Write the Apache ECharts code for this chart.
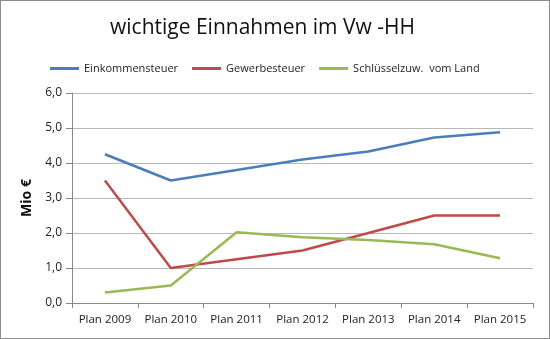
<!DOCTYPE html>
<html><head><meta charset="utf-8">
<script src="https://cdn.jsdelivr.net/npm/echarts@6/dist/echarts.min.js"></script>
<style>html,body{margin:0;padding:0;background:#fff}#c{width:550px;height:339px;box-sizing:border-box;border:1px solid #8c8c8c}</style>
</head><body><div id="c"></div>
<script>
const categories = ['Plan 2009','Plan 2010','Plan 2011','Plan 2012','Plan 2013','Plan 2014','Plan 2015'];
const einkommensteuer = [4.25, 3.5, 3.8, 4.1, 4.33, 4.73, 4.88];
const gewerbesteuer = [3.5, 1.0, 1.25, 1.5, 2.0, 2.5, 2.5];
const schluesselzuw = [0.3, 0.5, 2.02, 1.88, 1.8, 1.68, 1.28];
const yTicks = [0, 1, 2, 3, 4, 5, 6];

const font = '"Open Sans", "DejaVu Sans", sans-serif';
const chart = echarts.init(document.getElementById('c'));
const mk = (name, data, color) => ({
  name, type: 'line', data, symbol: 'none', smooth: false,
  lineStyle: {color, width: 2.5}, itemStyle: {color}
});
chart.setOption({
  animation: false,
  title: {text: 'wichtige Einnahmen im Vw -HH', left: 104, top: 12,
    textStyle: {fontFamily: font, fontSize: 21, fontWeight: 'normal', color: '#111'}},
  legend: {top: 57, left: 44, itemWidth: 29, itemHeight: 3, itemGap: 14,
    icon: 'rect',
    textStyle: {fontFamily: font, fontSize: 11, color: '#222'},
    data: ['Einkommensteuer','Gewerbesteuer','Schlüsselzuw.  vom Land']},
  grid: {left: 71, right: 16, top: 92, bottom: 35, containLabel: false},
  xAxis: {type: 'category', data: categories, boundaryGap: true,
    axisLine: {lineStyle: {color: '#888'}},
    axisTick: {show: true, alignWithLabel: false, length: 5, lineStyle: {color: '#888'}},
    axisLabel: {fontFamily: font, fontSize: 11.5, color: '#222', margin: 11, interval: 0}},
  yAxis: {type: 'value', min: 0, max: 6, interval: 1,
    name: 'Mio €', nameLocation: 'middle', nameGap: 30, nameRotate: 90,
    nameTextStyle: {fontFamily: font, fontSize: 14, fontWeight: 'bold', color: '#111'},
    axisLine: {show: true, lineStyle: {color: '#888'}},
    axisTick: {show: true, length: 6, lineStyle: {color: '#888'}},
    axisLabel: {fontFamily: font, fontSize: 12, color: '#222', margin: 10,
      formatter: v => yTicks.includes(v) ? v.toFixed(1).replace('.', ',') : ''},
    splitLine: {lineStyle: {color: '#b8b8b8'}}},
  series: [
    mk('Einkommensteuer', einkommensteuer, '#4a7ebb'),
    mk('Gewerbesteuer', gewerbesteuer, '#be4b48'),
    mk('Schlüsselzuw.  vom Land', schluesselzuw, '#98b954')
  ]
});
</script></body></html>
